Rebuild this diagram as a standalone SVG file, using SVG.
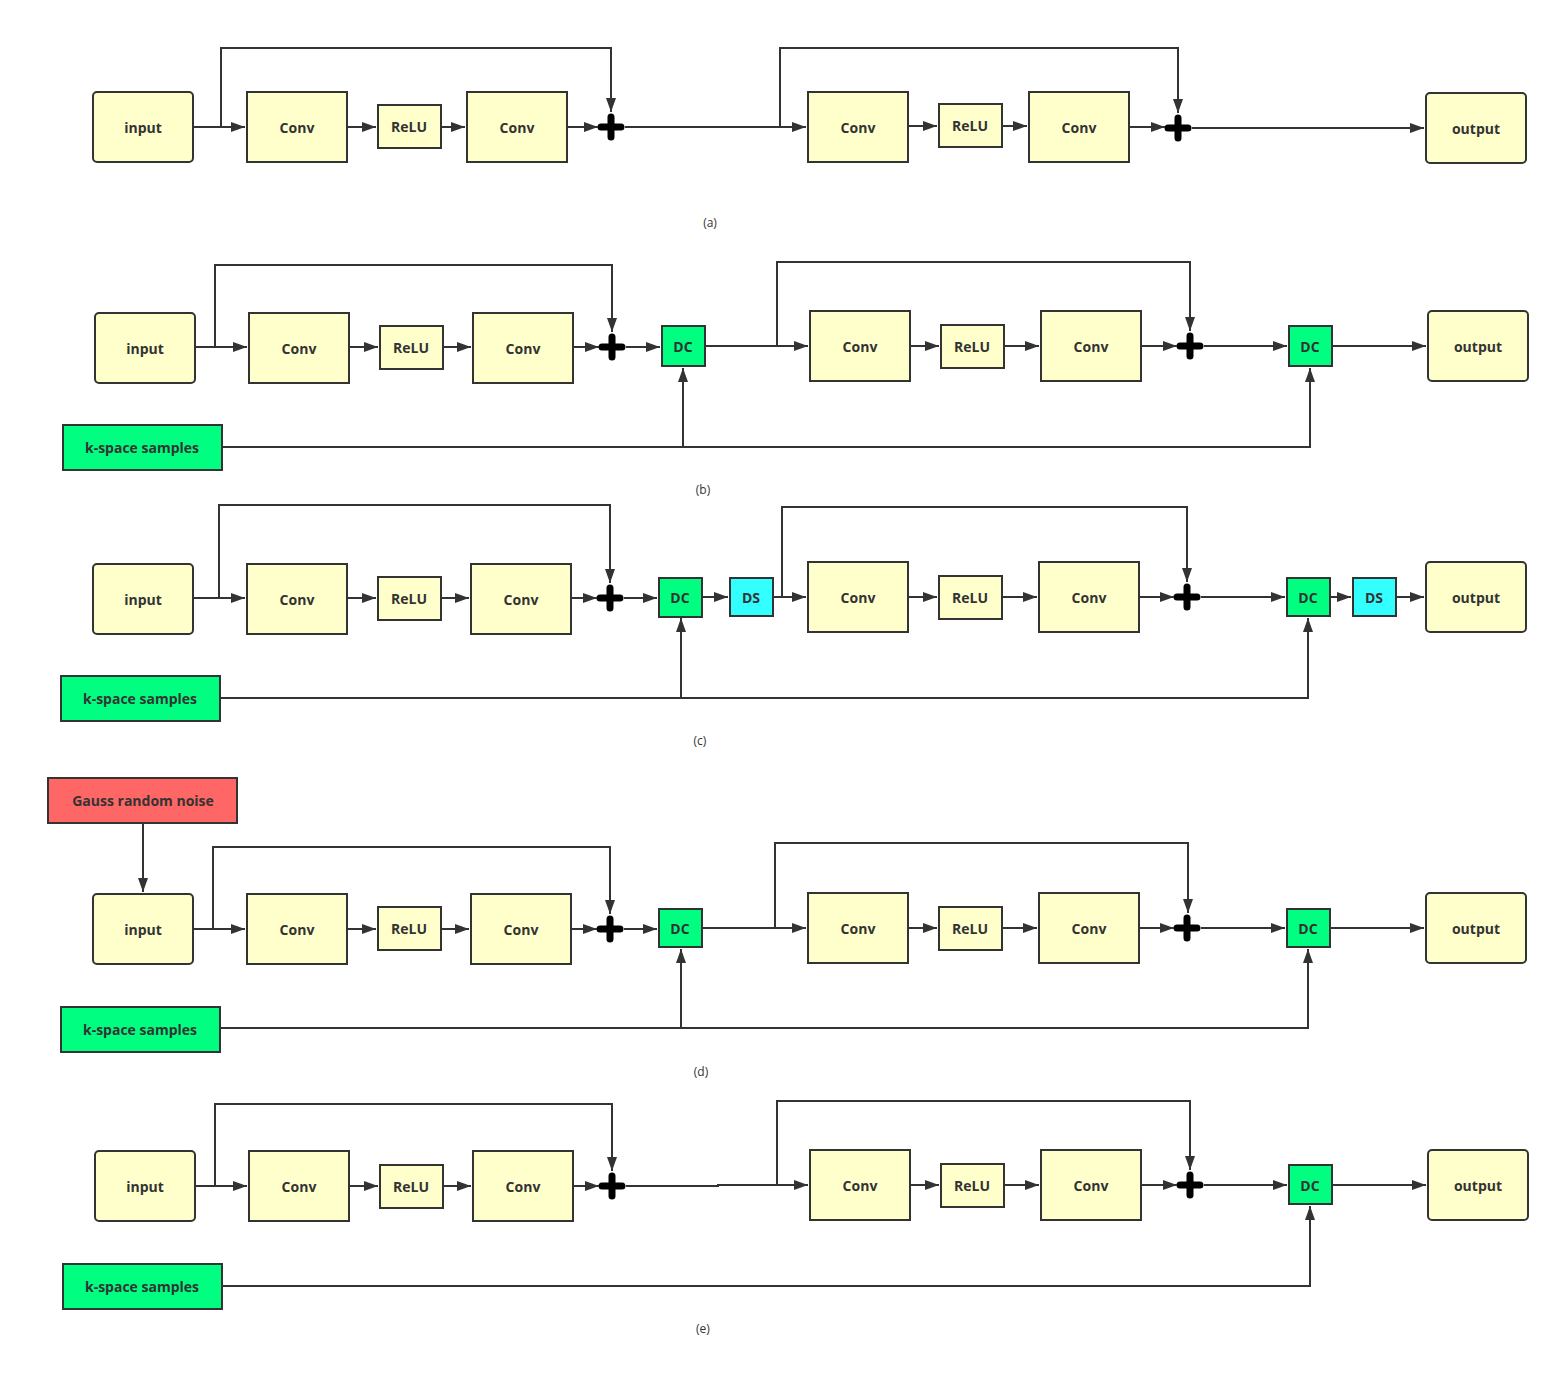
<svg xmlns="http://www.w3.org/2000/svg" width="1560" height="1375" viewBox="0 0 1560 1375">
<defs>
<marker id="arr" markerUnits="userSpaceOnUse" markerWidth="14" markerHeight="10" viewBox="0 0 14 10" refX="14" refY="5" orient="auto"><path d="M0,0 L14,5 L0,10 z" fill="#333"/></marker>
<style>
.c{fill:#FFFFCC;stroke:#333;stroke-width:2}
.g{fill:#00FF80;stroke:#333;stroke-width:2}
.s{fill:#33FFFF;stroke:#333;stroke-width:2}
.r{fill:#FF6666;stroke:#333;stroke-width:2}
.t{font-family:"Open Sans","Liberation Sans",sans-serif;font-weight:bold;font-size:14px;fill:#333;text-anchor:middle;dominant-baseline:central}
.l{font-family:"Open Sans","Liberation Sans",sans-serif;font-size:12px;fill:#333;text-anchor:middle;dominant-baseline:central}
.e path{fill:none;stroke:#333;stroke-width:2;marker-end:url(#arr)}
.p{stroke:#000;stroke-width:7;stroke-linecap:round;fill:none}
</style>
</defs>
<rect width="1560" height="1375" fill="#fff"/>

<!-- Row a -->
<g id="a-input"><rect class="c" x="93" y="92" width="100" height="70" rx="4"/><text class="t" x="143" y="127">input</text></g>
<g id="a-conv1"><rect class="c" x="247" y="92" width="100" height="70"/><text class="t" x="297" y="127">Conv</text></g>
<g id="a-relu1"><rect class="c" x="378" y="105" width="63" height="43"/><text class="t" x="409" y="126">ReLU</text></g>
<g id="a-conv2"><rect class="c" x="467" y="92" width="100" height="70"/><text class="t" x="517" y="127">Conv</text></g>
<g id="a-plus1"><path class="p" d="M601,127 H621 M611,117 V137"/></g>
<g id="a-conv3"><rect class="c" x="808" y="92" width="100" height="70"/><text class="t" x="858" y="127">Conv</text></g>
<g id="a-relu2"><rect class="c" x="939" y="104" width="63" height="43"/><text class="t" x="970" y="125">ReLU</text></g>
<g id="a-conv4"><rect class="c" x="1029" y="92" width="100" height="70"/><text class="t" x="1079" y="127">Conv</text></g>
<g id="a-plus2"><path class="p" d="M1168,128 H1188 M1178,118 V138"/></g>
<g id="a-output"><rect class="c" x="1426" y="93" width="100" height="70" rx="4"/><text class="t" x="1476" y="128">output</text></g>
<text class="l" x="710" y="222">(a)</text>

<!-- Row b -->
<g id="b-input"><rect class="c" x="95" y="313" width="100" height="70" rx="4"/><text class="t" x="145" y="348">input</text></g>
<g id="b-conv1"><rect class="c" x="249" y="313" width="100" height="70"/><text class="t" x="299" y="348">Conv</text></g>
<g id="b-relu1"><rect class="c" x="380" y="326" width="63" height="43"/><text class="t" x="411" y="347">ReLU</text></g>
<g id="b-conv2"><rect class="c" x="473" y="313" width="100" height="70"/><text class="t" x="523" y="348">Conv</text></g>
<g id="b-plus1"><path class="p" d="M602,347 H622 M612,337 V357"/></g>
<g id="b-dc1"><rect class="g" x="662" y="326" width="43" height="40"/><text class="t" x="683" y="346">DC</text></g>
<g id="b-conv3"><rect class="c" x="810" y="311" width="100" height="70"/><text class="t" x="860" y="346">Conv</text></g>
<g id="b-relu2"><rect class="c" x="941" y="325" width="63" height="43"/><text class="t" x="972" y="346">ReLU</text></g>
<g id="b-conv4"><rect class="c" x="1041" y="311" width="100" height="70"/><text class="t" x="1091" y="346">Conv</text></g>
<g id="b-plus2"><path class="p" d="M1180,346 H1200 M1190,336 V356"/></g>
<g id="b-dc2"><rect class="g" x="1289" y="326" width="43" height="40"/><text class="t" x="1310" y="346">DC</text></g>
<g id="b-output"><rect class="c" x="1428" y="311" width="100" height="70" rx="4"/><text class="t" x="1478" y="346">output</text></g>
<g id="b-kspace"><rect class="g" x="63" y="425" width="159" height="45"/><text class="t" x="142" y="447">k-space samples</text></g>
<text class="l" x="703" y="489">(b)</text>

<!-- Row c -->
<g id="c-input"><rect class="c" x="93" y="564" width="100" height="70" rx="4"/><text class="t" x="143" y="599">input</text></g>
<g id="c-conv1"><rect class="c" x="247" y="564" width="100" height="70"/><text class="t" x="297" y="599">Conv</text></g>
<g id="c-relu1"><rect class="c" x="378" y="577" width="63" height="43"/><text class="t" x="409" y="598">ReLU</text></g>
<g id="c-conv2"><rect class="c" x="471" y="564" width="100" height="70"/><text class="t" x="521" y="599">Conv</text></g>
<g id="c-plus1"><path class="p" d="M600,598 H620 M610,588 V608"/></g>
<g id="c-dc1"><rect class="g" x="659" y="578" width="43" height="39"/><text class="t" x="680" y="597">DC</text></g>
<g id="c-ds1"><rect class="s" x="730" y="578" width="43" height="38"/><text class="t" x="751" y="597">DS</text></g>
<g id="c-conv3"><rect class="c" x="808" y="562" width="100" height="70"/><text class="t" x="858" y="597">Conv</text></g>
<g id="c-relu2"><rect class="c" x="939" y="576" width="63" height="43"/><text class="t" x="970" y="597">ReLU</text></g>
<g id="c-conv4"><rect class="c" x="1039" y="562" width="100" height="70"/><text class="t" x="1089" y="597">Conv</text></g>
<g id="c-plus2"><path class="p" d="M1177,597 H1197 M1187,587 V607"/></g>
<g id="c-dc2"><rect class="g" x="1287" y="578" width="43" height="38"/><text class="t" x="1308" y="597">DC</text></g>
<g id="c-ds2"><rect class="s" x="1353" y="578" width="43" height="38"/><text class="t" x="1374" y="597">DS</text></g>
<g id="c-output"><rect class="c" x="1426" y="562" width="100" height="70" rx="4"/><text class="t" x="1476" y="597">output</text></g>
<g id="c-kspace"><rect class="g" x="61" y="676" width="159" height="45"/><text class="t" x="140" y="698">k-space samples</text></g>
<text class="l" x="700" y="740">(c)</text>

<!-- Row d -->
<g id="d-noise"><rect class="r" x="48" y="778" width="189" height="45"/><text class="t" x="143" y="800">Gauss random noise</text></g>
<g id="d-input"><rect class="c" x="93" y="894" width="100" height="70" rx="4"/><text class="t" x="143" y="929">input</text></g>
<g id="d-conv1"><rect class="c" x="247" y="894" width="100" height="70"/><text class="t" x="297" y="929">Conv</text></g>
<g id="d-relu1"><rect class="c" x="378" y="907" width="63" height="43"/><text class="t" x="409" y="928">ReLU</text></g>
<g id="d-conv2"><rect class="c" x="471" y="894" width="100" height="70"/><text class="t" x="521" y="929">Conv</text></g>
<g id="d-plus1"><path class="p" d="M600,929 H620 M610,919 V939"/></g>
<g id="d-dc1"><rect class="g" x="659" y="909" width="43" height="38"/><text class="t" x="680" y="928">DC</text></g>
<g id="d-conv3"><rect class="c" x="808" y="893" width="100" height="70"/><text class="t" x="858" y="928">Conv</text></g>
<g id="d-relu2"><rect class="c" x="939" y="907" width="63" height="43"/><text class="t" x="970" y="928">ReLU</text></g>
<g id="d-conv4"><rect class="c" x="1039" y="893" width="100" height="70"/><text class="t" x="1089" y="928">Conv</text></g>
<g id="d-plus2"><path class="p" d="M1177,928 H1197 M1187,918 V938"/></g>
<g id="d-dc2"><rect class="g" x="1287" y="909" width="43" height="38"/><text class="t" x="1308" y="928">DC</text></g>
<g id="d-output"><rect class="c" x="1426" y="893" width="100" height="70" rx="4"/><text class="t" x="1476" y="928">output</text></g>
<g id="d-kspace"><rect class="g" x="61" y="1007" width="159" height="45"/><text class="t" x="140" y="1029">k-space samples</text></g>
<text class="l" x="701" y="1071">(d)</text>

<!-- Row e -->
<g id="e-input"><rect class="c" x="95" y="1151" width="100" height="70" rx="4"/><text class="t" x="145" y="1186">input</text></g>
<g id="e-conv1"><rect class="c" x="249" y="1151" width="100" height="70"/><text class="t" x="299" y="1186">Conv</text></g>
<g id="e-relu1"><rect class="c" x="380" y="1165" width="63" height="43"/><text class="t" x="411" y="1186">ReLU</text></g>
<g id="e-conv2"><rect class="c" x="473" y="1151" width="100" height="70"/><text class="t" x="523" y="1186">Conv</text></g>
<g id="e-plus1"><path class="p" d="M602,1186 H622 M612,1176 V1196"/></g>
<g id="e-conv3"><rect class="c" x="810" y="1150" width="100" height="70"/><text class="t" x="860" y="1185">Conv</text></g>
<g id="e-relu2"><rect class="c" x="941" y="1164" width="63" height="43"/><text class="t" x="972" y="1185">ReLU</text></g>
<g id="e-conv4"><rect class="c" x="1041" y="1150" width="100" height="70"/><text class="t" x="1091" y="1185">Conv</text></g>
<g id="e-plus2"><path class="p" d="M1180,1185 H1200 M1190,1175 V1195"/></g>
<g id="e-dc"><rect class="g" x="1289" y="1165" width="43" height="39"/><text class="t" x="1310" y="1185">DC</text></g>
<g id="e-output"><rect class="c" x="1428" y="1150" width="100" height="70" rx="4"/><text class="t" x="1478" y="1185">output</text></g>
<g id="e-kspace"><rect class="g" x="63" y="1264" width="159" height="45"/><text class="t" x="142" y="1286">k-space samples</text></g>
<text class="l" x="703" y="1328">(e)</text>

<g id="connectors" class="e">
<!-- a -->
<path d="M193,127 H245"/>
<path d="M221,127 V48 H611 V112"/>
<path d="M347,127 H376"/>
<path d="M441,127 H465"/>
<path d="M567,127 H598"/>
<path d="M625,127 H806"/>
<path d="M780,127 V48 H1178 V113"/>
<path d="M908,126 H937"/>
<path d="M1002,126 H1027"/>
<path d="M1129,127 H1165"/>
<path d="M1192,128 H1424"/>
<!-- b -->
<path d="M195,347 H247"/>
<path d="M215,347 V265 H612 V332"/>
<path d="M349,347 H378"/>
<path d="M443,347 H471"/>
<path d="M573,347 H599"/>
<path d="M626,347 H660"/>
<path d="M705,346 H808"/>
<path d="M777,346 V262 H1190 V331"/>
<path d="M910,346 H939"/>
<path d="M1004,346 H1039"/>
<path d="M1141,346 H1177"/>
<path d="M1204,346 H1287"/>
<path d="M1332,346 H1426"/>
<path d="M222,447 H1310 V368"/>
<path d="M683,447 V368"/>
<!-- c -->
<path d="M193,598 H245"/>
<path d="M219,598 V505 H610 V583"/>
<path d="M347,598 H376"/>
<path d="M441,598 H469"/>
<path d="M571,598 H597"/>
<path d="M624,598 H657"/>
<path d="M702,597 H728"/>
<path d="M773,597 H806"/>
<path d="M782,597 V507 H1187 V582"/>
<path d="M908,597 H937"/>
<path d="M1002,597 H1037"/>
<path d="M1139,597 H1174"/>
<path d="M1201,597 H1285"/>
<path d="M1330,597 H1351"/>
<path d="M1396,597 H1424"/>
<path d="M220,698 H1308 V618"/>
<path d="M681,698 V618"/>
<!-- d -->
<path d="M143,823 V892"/>
<path d="M193,929 H245"/>
<path d="M213,929 V847 H610 V914"/>
<path d="M347,929 H376"/>
<path d="M441,929 H469"/>
<path d="M571,929 H597"/>
<path d="M624,929 H657"/>
<path d="M702,928 H806"/>
<path d="M775,928 V843 H1188 V913"/>
<path d="M908,928 H937"/>
<path d="M1002,928 H1037"/>
<path d="M1139,928 H1174"/>
<path d="M1201,928 H1285"/>
<path d="M1330,928 H1424"/>
<path d="M220,1028 H1308 V949"/>
<path d="M681,1028 V949"/>
<!-- e -->
<path d="M195,1186 H247"/>
<path d="M215,1186 V1104 H612 V1171"/>
<path d="M349,1186 H378"/>
<path d="M443,1186 H471"/>
<path d="M573,1186 H599"/>
<path d="M626,1186 H718 V1185 H808"/>
<path d="M777,1185 V1101 H1190 V1170"/>
<path d="M910,1185 H939"/>
<path d="M1004,1185 H1039"/>
<path d="M1141,1185 H1177"/>
<path d="M1204,1185 H1287"/>
<path d="M1332,1185 H1426"/>
<path d="M222,1286 H1310 V1206"/>
</g>
</svg>
